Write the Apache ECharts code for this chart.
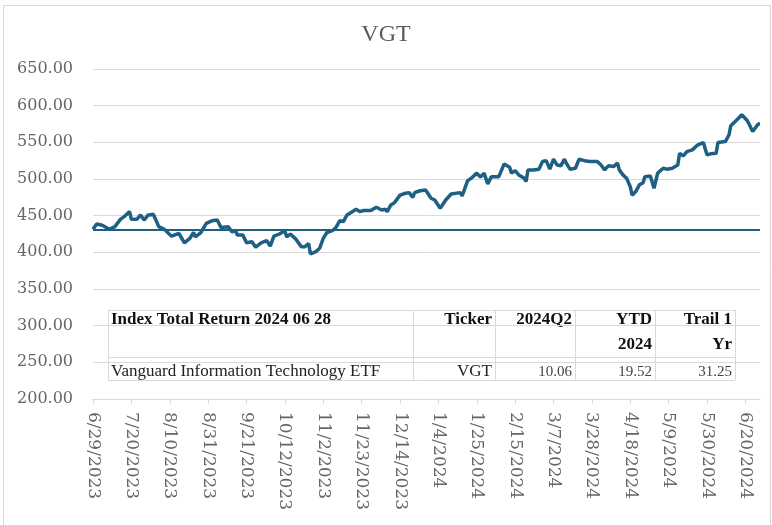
<!DOCTYPE html>
<html>
<head>
<meta charset="utf-8">
<script src="https://cdn.jsdelivr.net/npm/echarts@6/dist/echarts.min.js"></script>
<style>
  html, body { margin: 0; padding: 0; background: #fff; }
  #main { width: 772px; height: 525px; }
</style>
</head>
<body>
<div id="main"></div>
<script>
// VGT closing prices (date, price)
const dates = [
  '2023-06-29','2023-07-01','2023-07-04','2023-07-08','2023-07-11','2023-07-14','2023-07-16','2023-07-19',
  '2023-07-20','2023-07-23','2023-07-25','2023-07-27','2023-07-29','2023-08-01','2023-08-04','2023-08-07',
  '2023-08-11','2023-08-15','2023-08-18','2023-08-21','2023-08-23','2023-08-24','2023-08-27','2023-08-30',
  '2023-09-02','2023-09-05','2023-09-07','2023-09-11','2023-09-13','2023-09-15','2023-09-16','2023-09-19',
  '2023-09-21','2023-09-24','2023-09-26','2023-09-29','2023-10-02','2023-10-04','2023-10-06','2023-10-09',
  '2023-10-12','2023-10-13','2023-10-15','2023-10-18','2023-10-21','2023-10-23','2023-10-25','2023-10-26',
  '2023-10-29','2023-10-31','2023-11-02','2023-11-04','2023-11-07','2023-11-09','2023-11-10','2023-11-11',
  '2023-11-13','2023-11-15','2023-11-17','2023-11-20','2023-11-22','2023-11-24','2023-11-28','2023-12-01',
  '2023-12-04','2023-12-06','2023-12-07','2023-12-09','2023-12-11','2023-12-14','2023-12-17','2023-12-19',
  '2023-12-21','2023-12-22','2023-12-25','2023-12-28','2023-12-31','2024-01-02','2024-01-05','2024-01-08',
  '2024-01-11','2024-01-16','2024-01-17','2024-01-20','2024-01-22','2024-01-25','2024-01-27','2024-01-29',
  '2024-01-31','2024-02-02','2024-02-06','2024-02-07','2024-02-09','2024-02-12','2024-02-13','2024-02-15',
  '2024-02-17','2024-02-20','2024-02-21','2024-02-22','2024-02-25','2024-02-28','2024-03-01','2024-03-03',
  '2024-03-05','2024-03-07','2024-03-09','2024-03-11','2024-03-13','2024-03-14','2024-03-16','2024-03-19',
  '2024-03-21','2024-03-24','2024-03-27','2024-03-31','2024-04-02','2024-04-04','2024-04-06','2024-04-09',
  '2024-04-11','2024-04-12','2024-04-14','2024-04-16','2024-04-18','2024-04-19','2024-04-21','2024-04-23',
  '2024-04-25','2024-04-26','2024-04-29','2024-05-01','2024-05-03','2024-05-06','2024-05-08','2024-05-11',
  '2024-05-14','2024-05-15','2024-05-17','2024-05-19','2024-05-22','2024-05-25','2024-05-28','2024-05-30',
  '2024-06-01','2024-06-04','2024-06-05','2024-06-09','2024-06-11','2024-06-12','2024-06-15','2024-06-18',
  '2024-06-21','2024-06-22','2024-06-24','2024-06-26','2024-06-27','2024-06-28'
];
const prices = [
  431.4, 438.7, 437.0, 431.4, 435.0, 445.0, 448.6, 455.5,
  445.0, 445.0, 451.0, 444.0, 450.5, 452.0, 435.0, 431.4,
  422.0, 426.0, 413.0, 419.0, 427.0, 421.0, 427.0, 439.6,
  443.0, 444.0, 434.0, 435.0, 428.0, 429.5, 423.6, 423.6,
  413.0, 414.5, 407.0, 413.0, 416.0, 408.6, 422.0, 425.0,
  429.5, 421.0, 425.0, 418.0, 407.7, 407.7, 412.0, 397.7,
  401.0, 405.5, 419.0, 427.0, 429.5, 434.0, 431.4, 443.0,
  442.0, 451.0, 454.0, 458.7, 455.5, 457.0, 457.0, 461.5,
  457.8, 458.7, 455.5, 464.6, 467.8, 478.0, 480.6, 481.4,
  475.0, 481.4, 484.0, 485.0, 473.8, 471.4, 460.0, 471.4,
  479.6, 481.4, 477.0, 497.8, 501.0, 508.0, 502.5, 508.0,
  493.3, 503.0, 503.0, 508.7, 520.6, 516.0, 508.0, 511.5,
  505.6, 501.0, 496.5, 512.4, 512.4, 513.4, 523.8, 525.0,
  513.4, 527.0, 519.0, 518.0, 527.0, 521.6, 513.4, 514.7,
  527.0, 525.0, 523.8, 523.8, 519.0, 512.4, 518.0, 517.0,
  522.0, 512.4, 505.6, 501.0, 489.6, 478.0, 482.8, 492.0,
  495.0, 503.0, 504.0, 487.4, 508.0, 514.7, 513.4, 514.7,
  519.0, 535.0, 531.5, 537.4, 539.7, 546.6, 549.7, 533.0,
  534.3, 535.0, 549.7, 551.0, 560.0, 572.5, 579.8, 587.6,
  579.8, 575.0, 564.8, 571.6, 575.0, 575.0
];
const baseline = 431.4;

const tickLabels = [
  '6/29/2023','7/20/2023','8/10/2023','8/31/2023','9/21/2023','10/12/2023',
  '11/2/2023','11/23/2023','12/14/2023','1/4/2024','1/25/2024','2/15/2024',
  '3/7/2024','3/28/2024','4/18/2024','5/9/2024','5/30/2024','6/20/2024'
];

const tableHead1 = ['Index Total Return 2024 06 28', 'Ticker', '2024Q2', 'YTD', 'Trail 1'];
const tableHead2 = ['', '', '', '2024', 'Yr'];
const tableRow = ['Vanguard Information Technology ETF', 'VGT', '10.06', '19.52', '31.25'];

// day offsets from the first date (x axis is calendar days like Excel's date axis)
const start = Date.UTC(2023, 5, 29);
const dayOfIso = s => { const p = s.split('-').map(Number); return Math.round((Date.UTC(p[0], p[1] - 1, p[2]) - start) / 864e5); };
const dayOfUs = s => { const p = s.split('/').map(Number); return Math.round((Date.UTC(p[2], p[0] - 1, p[1]) - start) / 864e5); };

const seriesData = dates.map((d, i) => [dayOfIso(d), prices[i]]);
const tickDays = tickLabels.map(dayOfUs);
const labelByDay = {};
tickDays.forEach((d, i) => { labelByDay[d] = tickLabels[i]; });

const serif = 'Liberation Serif';
const gray = '#595959';
const lineGray = '#d9d9d9';

// table overlay (pixel layout)
const colX = [108, 413, 495, 575, 655, 735];
const rowY = [310, 357, 380];
const graphics = [];
graphics.push({ type: 'rect', shape: { x: 3.5, y: 5.5, width: 767, height: 530 }, style: { fill: 'none', stroke: lineGray, lineWidth: 1 }, silent: true });
rowY.forEach(y => graphics.push({ type: 'line', shape: { x1: colX[0], y1: y + 0.5, x2: colX[5], y2: y + 0.5 }, style: { stroke: lineGray, lineWidth: 1 } }));
colX.forEach(x => graphics.push({ type: 'line', shape: { x1: x + 0.5, y1: rowY[0], x2: x + 0.5, y2: rowY[2] }, style: { stroke: lineGray, lineWidth: 1 } }));

function cellText(txt, col, y, bold, size, color) {
  if (!txt) return;
  const left = col === 0;
  graphics.push({
    type: 'text',
    x: left ? colX[0] + 3 : colX[col + 1] - 3,
    y: y,
    style: {
      text: txt,
      font: (bold ? 'bold ' : '') + size + 'px ' + serif,
      fill: color,
      align: left ? 'left' : 'right',
      verticalAlign: 'middle'
    }
  });
}
tableHead1.forEach((t, i) => cellText(t, i, 320, true, 17, '#111'));
tableHead2.forEach((t, i) => cellText(t, i, 345, true, 17, '#111'));
tableRow.forEach((t, i) => cellText(t, i, 372, false, i < 2 ? 17 : 15, i < 2 ? '#222' : '#444'));

const chart = echarts.init(document.getElementById('main'));
chart.setOption({
  backgroundColor: '#fff',
  animation: false,
  title: {
    text: 'VGT',
    left: 'center',
    top: 18,
    textStyle: { fontFamily: serif, fontSize: 24, fontWeight: 'normal', color: gray }
  },
  grid: { left: 93, right: 12, top: 69, bottom: 126 },
  xAxis: {
    type: 'value',
    min: 0,
    max: 365,
    axisLine: { lineStyle: { color: lineGray, width: 1 } },
    axisTick: { show: true, length: 5, lineStyle: { color: lineGray }, customValues: tickDays },
    splitLine: { show: false },
    axisLabel: {
      customValues: tickDays,
      rotate: -90,
      margin: 13,
      fontFamily: 'DejaVu Serif',
      fontSize: 17,
      color: '#666',
      formatter: v => labelByDay[v] || ''
    }
  },
  yAxis: {
    type: 'value',
    min: 200,
    max: 650,
    interval: 50,
    axisLine: { show: false },
    axisTick: { show: false },
    splitLine: { lineStyle: { color: lineGray, width: 1 } },
    axisLabel: {
      margin: 20,
      fontFamily: 'DejaVu Serif',
      fontSize: 16,
      color: '#666',
      formatter: v => v.toFixed(2)
    }
  },
  series: [{
    type: 'line',
    data: seriesData,
    symbol: 'none',
    lineStyle: { color: '#1d6083', width: 3.5 },
    z: 3,
    markLine: {
      silent: true,
      symbol: 'none',
      label: { show: false },
      lineStyle: { color: '#1d6083', width: 2, type: 'solid' },
      data: [{ yAxis: baseline }]
    }
  }],
  graphic: graphics
});
</script>
</body>
</html>
